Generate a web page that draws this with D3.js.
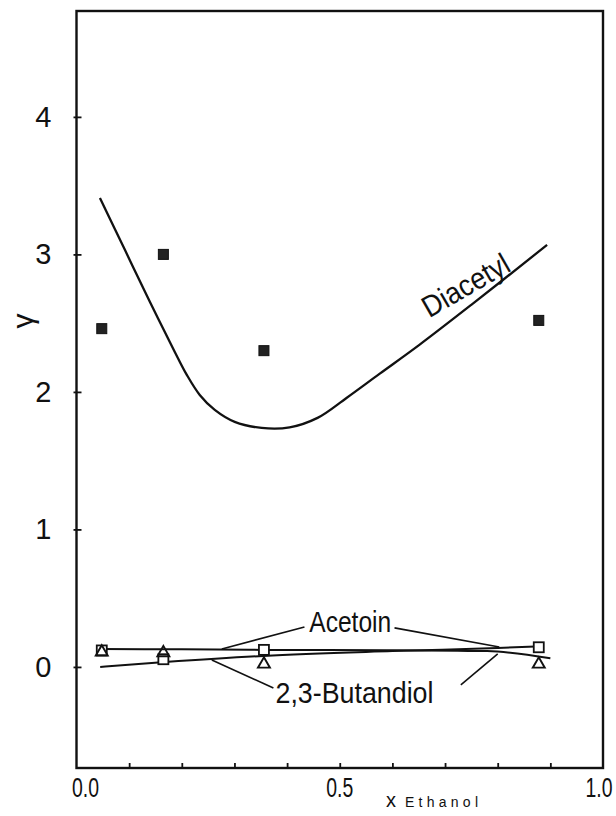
<!DOCTYPE html>
<html><head><meta charset="utf-8">
<script src="https://cdn.jsdelivr.net/npm/d3@7"></script>
<style>
html,body{margin:0;padding:0;background:#fff;}
svg{display:block;}
text{font-family:"Liberation Sans","DejaVu Sans",Arial,sans-serif;fill:#111;}
</style></head>
<body>
<svg id="chart" width="616" height="816"></svg>
<script>
// ---- data ----
const xMeasured = [0.048, 0.165, 0.356, 0.878];
const diacetylPoints = [2.46, 3.00, 2.30, 2.52];
const acetoinPoints = [0.12, 0.056, 0.124, 0.143];
const butandiolPoints = [0.115, 0.11, 0.027, 0.027];

const diacetylCurveX = [0.0445, 0.0919, 0.1393, 0.1867, 0.2095, 0.2341, 0.2626, 0.3005, 0.3517, 0.4047, 0.4578, 0.5128, 0.5754, 0.6512, 0.7498, 0.8938];
const diacetylCurveY = [3.411, 3.033, 2.655, 2.291, 2.124, 1.978, 1.869, 1.782, 1.738, 1.742, 1.811, 1.956, 2.131, 2.342, 2.633, 3.069];

const acetoinFitX = [0.045, 0.168, 0.355, 0.60, 0.80, 0.872];
const acetoinFitY = [0.0, 0.035, 0.08, 0.115, 0.138, 0.148];
const butandiolFitX = [0.045, 0.20, 0.355, 0.60, 0.78, 0.90];
const butandiolFitY = [0.131, 0.128, 0.124, 0.122, 0.115, 0.063];

const yTickValues = [0, 1, 2, 3, 4];
const yTickLabels = ["0", "1", "2", "3", "4"];
const xMinorTicks = [0.1, 0.2, 0.3, 0.4, 0.5, 0.6, 0.7, 0.8, 0.9];
const xTickValues = [0, 0.5, 1.0];
const xTickLabels = ["0.0", "0.5", "1.0"];

// leader lines [x1,y1,x2,y2] in data units
const leaderLines = [
  [0.433, 0.291, 0.276, 0.131],
  [0.604, 0.284, 0.803, 0.145],
  [0.374, -0.153, 0.257, 0.051],
  [0.730, -0.131, 0.800, 0.095]
];
const seriesLabels = ["Acetoin", "2,3-Butandiol", "Diacetyl"];
const labelPos = [[0.520, 0.257], [0.528, -0.262], [0.749, 2.71]];

// ---- layout ----
const W = 616, H = 816;
const m = {left: 76.5, right: 13, top: 11, bottom: 48};
const svg = d3.select("#chart");
const x = d3.scaleLinear().domain([0, 1]).range([m.left, W - m.right]);
const y = d3.scaleLinear().domain([-0.735, 4.77]).range([H - m.bottom, m.top]);

// frame
svg.append("rect").attr("x", x(0)).attr("y", y(4.77))
  .attr("width", x(1) - x(0)).attr("height", y(-0.735) - y(4.77))
  .attr("fill", "none").attr("stroke", "#111").attr("stroke-width", 2.4);

// bottom ticks (inward)
const gx = svg.append("g").attr("transform", `translate(0,${y(-0.735)})`)
  .call(d3.axisBottom(x).tickValues(xMinorTicks).tickSize(-5).tickFormat(""));
gx.select(".domain").remove();
gx.selectAll("line").attr("stroke", "#111").attr("stroke-width", 1.8);

// x tick labels
const xLabelShift = [9, 0, -4];
svg.append("g").selectAll("text").data(xTickValues).join("text")
  .attr("transform", (d, i) => `translate(${x(d) + xLabelShift[i]},${y(-0.735) + 29}) scale(0.72,1)`)
  .attr("text-anchor", "middle").attr("font-size", 27)
  .text((d, i) => xTickLabels[i]);

// left ticks
const gyIn = svg.append("g").attr("transform", `translate(${x(0)},0)`)
  .call(d3.axisLeft(y).tickValues(yTickValues).tickSize(-5).tickFormat(""));
gyIn.select(".domain").remove();
gyIn.selectAll("line").attr("stroke", "#111").attr("stroke-width", 1.8);
const gyOut = svg.append("g").attr("transform", `translate(${x(0)},0)`)
  .call(d3.axisLeft(y).tickValues(yTickValues).tickSize(3).tickPadding(22)
    .tickFormat((d, i) => yTickLabels[i]));
gyOut.select(".domain").remove();
gyOut.selectAll("line").attr("stroke", "#111").attr("stroke-width", 1.8);
gyOut.selectAll("text").attr("font-size", 29).attr("fill", "#111")
  .attr("font-family", '"Liberation Sans","DejaVu Sans",sans-serif');

// axis titles
svg.append("text").attr("transform", "translate(22,321) rotate(-90)")
  .attr("text-anchor", "middle").attr("dominant-baseline", "central")
  .attr("font-size", 30).attr("font-family", '"DejaVu Sans",sans-serif').text("γ");
svg.append("text").attr("x", 386).attr("y", 807).attr("font-size", 20).text("x");
svg.append("text").attr("x", 405).attr("y", 807).attr("font-size", 14)
  .attr("textLength", 73).attr("lengthAdjust", "spacing").text("Ethanol");

// curves
const toPairs = (xs, ys) => xs.map((v, i) => [v, ys[i]]);
svg.append("path").datum(toPairs(diacetylCurveX, diacetylCurveY))
  .attr("d", d3.line().x(d => x(d[0])).y(d => y(d[1])).curve(d3.curveCatmullRom.alpha(0.5)))
  .attr("fill", "none").attr("stroke", "#111").attr("stroke-width", 2.3);
svg.append("path").datum(toPairs(acetoinFitX, acetoinFitY))
  .attr("d", d3.line().x(d => x(d[0])).y(d => y(d[1])).curve(d3.curveMonotoneX))
  .attr("fill", "none").attr("stroke", "#111").attr("stroke-width", 2);
svg.append("path").datum(toPairs(butandiolFitX, butandiolFitY))
  .attr("d", d3.line().x(d => x(d[0])).y(d => y(d[1])).curve(d3.curveMonotoneX))
  .attr("fill", "none").attr("stroke", "#111").attr("stroke-width", 2);

// leader lines
svg.append("g").selectAll("line").data(leaderLines).join("line")
  .attr("x1", d => x(d[0])).attr("y1", d => y(d[1]))
  .attr("x2", d => x(d[2])).attr("y2", d => y(d[3]))
  .attr("stroke", "#111").attr("stroke-width", 1.6);

// markers
const sq = 10;
svg.append("g").selectAll("rect").data(xMeasured).join("rect")
  .attr("x", (d) => x(d) - sq / 2).attr("y", (d, i) => y(diacetylPoints[i]) - sq / 2)
  .attr("width", sq).attr("height", sq).attr("fill", "#222").attr("stroke", "#111").attr("stroke-width", 1);
svg.append("g").selectAll("rect").data(xMeasured).join("rect")
  .attr("x", (d) => x(d) - sq / 2).attr("y", (d, i) => y(acetoinPoints[i]) - sq / 2)
  .attr("width", sq).attr("height", sq).attr("fill", "#fff").attr("stroke", "#111").attr("stroke-width", 1.8);
const tri = d3.symbol().type(d3.symbolTriangle).size(62);
svg.append("g").selectAll("path").data(xMeasured).join("path")
  .attr("d", tri)
  .attr("transform", (d, i) => `translate(${x(d)},${y(butandiolPoints[i]) + 1})`)
  .attr("fill", "none").attr("stroke", "#111").attr("stroke-width", 1.9);

// series labels
svg.append("text").attr("x", x(labelPos[0][0])).attr("y", y(labelPos[0][1]))
  .attr("text-anchor", "middle").attr("font-size", 30)
  .attr("textLength", 82).attr("lengthAdjust", "spacingAndGlyphs").text(seriesLabels[0]);
svg.append("text").attr("x", x(labelPos[1][0])).attr("y", y(labelPos[1][1]))
  .attr("text-anchor", "middle").attr("font-size", 30)
  .attr("textLength", 158).attr("lengthAdjust", "spacingAndGlyphs").text(seriesLabels[1]);
svg.append("text")
  .attr("transform", `translate(${x(labelPos[2][0])},${y(labelPos[2][1])}) rotate(-30)`)
  .attr("text-anchor", "middle").attr("font-size", 30)
  .attr("textLength", 96).attr("lengthAdjust", "spacingAndGlyphs").text(seriesLabels[2]);
</script>
</body></html>
